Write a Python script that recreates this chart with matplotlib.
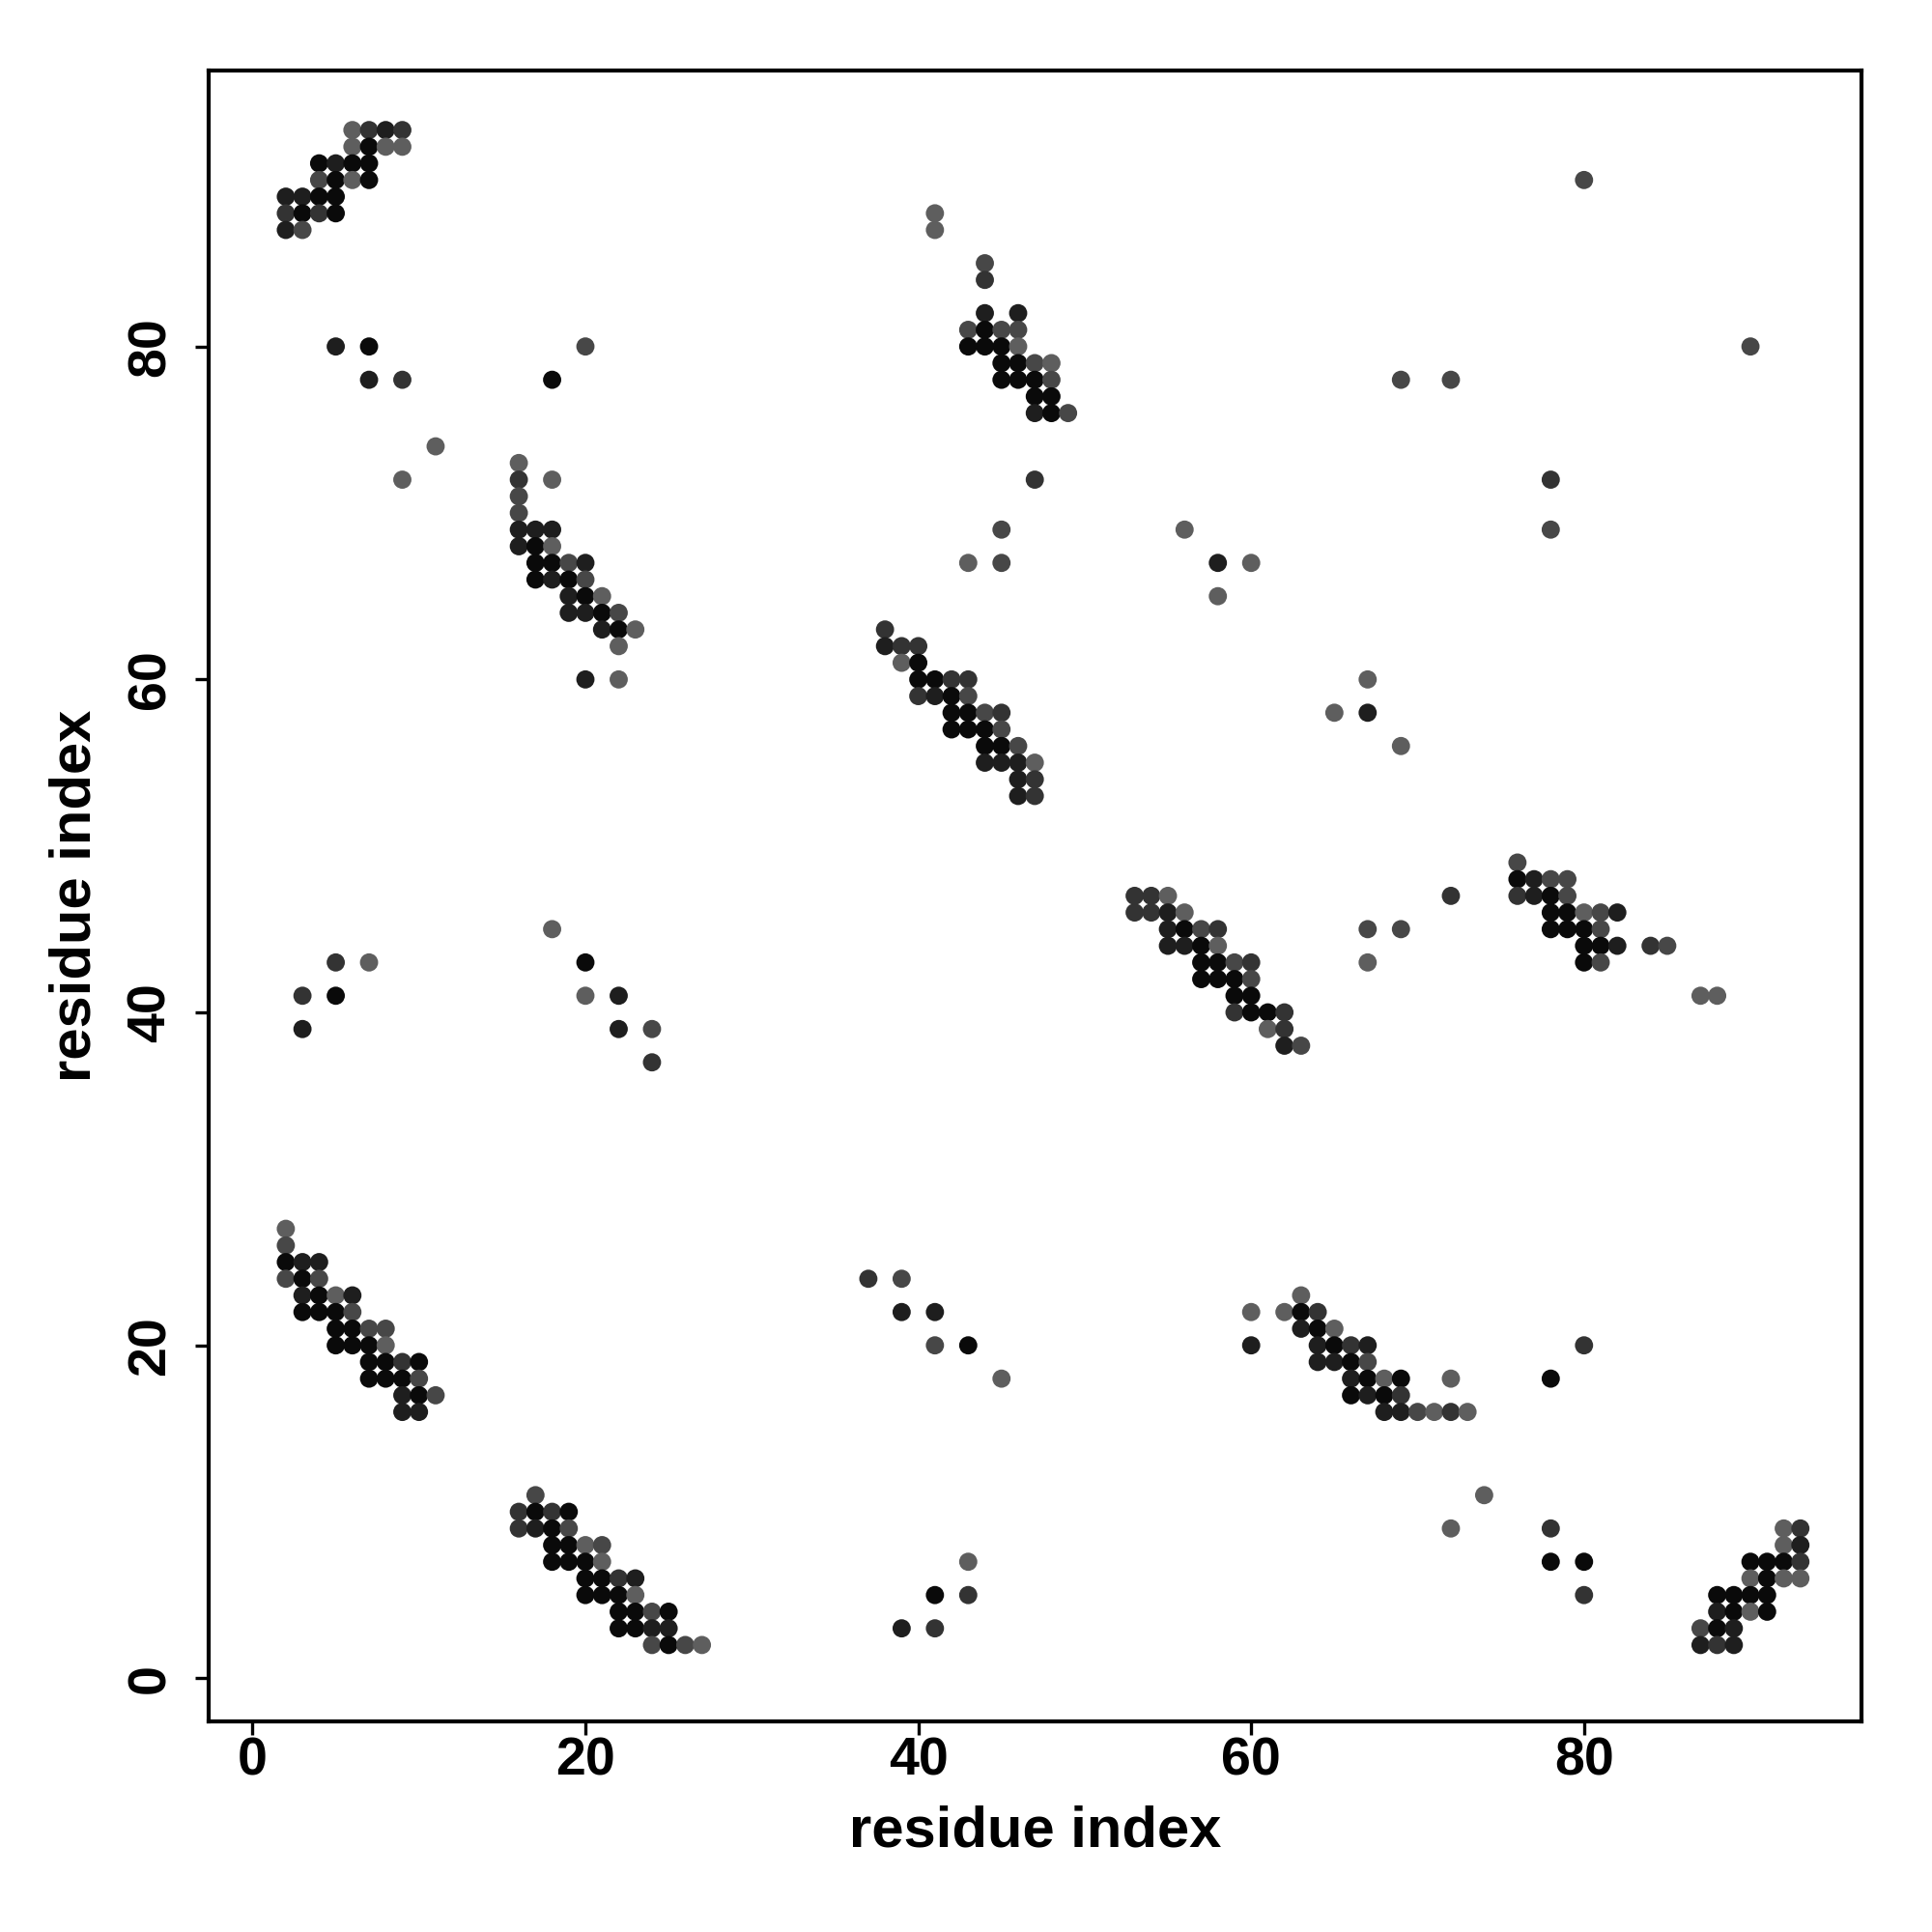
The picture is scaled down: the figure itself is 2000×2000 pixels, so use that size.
import matplotlib
matplotlib.use("Agg")
import matplotlib.pyplot as plt

# contact map: each entry is (residue i, residue j, shade level 1=darkest .. 5=lightest)
block_top_left = [
    (6, 93, 5), (7, 93, 3), (8, 93, 2), (9, 93, 3),
    (6, 92, 5), (7, 92, 1), (8, 92, 5), (9, 92, 5),
    (4, 91, 1), (5, 91, 2), (6, 91, 1), (7, 91, 1),
    (4, 90, 4), (5, 90, 1), (6, 90, 5), (7, 90, 1),
    (2, 89, 2), (3, 89, 2), (4, 89, 1), (5, 89, 1),
    (2, 88, 3), (3, 88, 1), (4, 88, 3), (5, 88, 1),
    (2, 87, 2), (3, 87, 4),
]

block_16_70 = [
    (16, 73, 5),
    (16, 72, 3), (18, 72, 5),
    (16, 71, 4), (16, 70, 4),
    (16, 69, 2), (17, 69, 2), (18, 69, 2),
    (16, 68, 2), (17, 68, 1), (18, 68, 5),
    (17, 67, 1), (18, 67, 1), (19, 67, 4), (20, 67, 2),
    (17, 66, 1), (18, 66, 2), (19, 66, 1), (20, 66, 4),
    (19, 65, 2), (20, 65, 1), (21, 65, 5),
    (19, 64, 2), (20, 64, 2), (21, 64, 1), (22, 64, 4),
    (21, 63, 2), (22, 63, 1), (23, 63, 5),
    (22, 62, 5),
    (20, 60, 2), (22, 60, 5),
]

block_41_80 = [
    (41, 88, 5), (41, 87, 5), (44, 85, 4), (44, 84, 3),
    (44, 82, 2), (46, 82, 2),
    (43, 81, 4), (44, 81, 1), (45, 81, 4), (46, 81, 4),
    (43, 80, 1), (44, 80, 1), (45, 80, 1), (46, 80, 5),
    (45, 79, 1), (46, 79, 1), (47, 79, 4), (48, 79, 5),
    (45, 78, 1), (46, 78, 1), (47, 78, 1), (48, 78, 4),
    (47, 77, 1), (48, 77, 1),
    (47, 76, 2), (48, 76, 1), (49, 76, 4),
    (47, 72, 3), (45, 69, 4), (43, 67, 5), (45, 67, 4),
]

block_38_58 = [
    (38, 63, 3),
    (38, 62, 2), (39, 62, 3), (40, 62, 3),
    (39, 61, 5), (40, 61, 1),
    (40, 60, 1), (41, 60, 1), (42, 60, 3), (43, 60, 3),
    (40, 59, 3), (41, 59, 2), (42, 59, 1), (43, 59, 4),
    (42, 58, 1), (43, 58, 1), (44, 58, 4), (45, 58, 3),
    (42, 57, 1), (43, 57, 1), (44, 57, 1), (45, 57, 4),
    (44, 56, 1), (45, 56, 1), (46, 56, 4),
    (44, 55, 2), (45, 55, 2), (46, 55, 2), (47, 55, 5),
    (46, 54, 2), (47, 54, 3),
    (46, 53, 2), (47, 53, 3),
]

block_53_43 = [
    (53, 47, 3), (54, 47, 3), (55, 47, 5),
    (53, 46, 3), (54, 46, 3), (55, 46, 2), (56, 46, 5),
    (55, 45, 2), (56, 45, 1), (57, 45, 4), (58, 45, 3),
    (55, 44, 2), (56, 44, 2), (57, 44, 1), (58, 44, 5),
    (57, 43, 1), (58, 43, 1), (59, 43, 4), (60, 43, 3),
    (57, 42, 1), (58, 42, 1), (59, 42, 1), (60, 42, 4),
    (59, 41, 1), (60, 41, 1),
    (59, 40, 3), (60, 40, 1), (61, 40, 1), (62, 40, 3),
    (61, 39, 5), (62, 39, 3),
    (62, 38, 2), (63, 38, 4),
]

block_76_46 = [
    (76, 49, 4),
    (76, 48, 1), (77, 48, 2), (78, 48, 4), (79, 48, 4),
    (76, 47, 3), (77, 47, 2), (78, 47, 1), (79, 47, 4),
    (78, 46, 1), (79, 46, 1), (80, 46, 5), (81, 46, 4), (82, 46, 2),
    (78, 45, 1), (79, 45, 1), (80, 45, 1), (81, 45, 4),
    (80, 44, 1), (81, 44, 1), (82, 44, 2), (84, 44, 3), (85, 44, 4),
    (80, 43, 1), (81, 43, 4),
    (87, 41, 5), (88, 41, 5),
]

block_2_20 = [
    (2, 27, 5), (2, 26, 4),
    (2, 25, 1), (3, 25, 2), (4, 25, 2),
    (2, 24, 4), (3, 24, 1), (4, 24, 4),
    (3, 23, 2), (4, 23, 1), (5, 23, 5), (6, 23, 2),
    (3, 22, 1), (4, 22, 1), (5, 22, 1), (6, 22, 4),
    (5, 21, 1), (6, 21, 1), (7, 21, 4), (8, 21, 4),
    (5, 20, 1), (6, 20, 1), (7, 20, 1), (8, 20, 5),
    (7, 19, 1), (8, 19, 1), (9, 19, 3), (10, 19, 1),
    (7, 18, 1), (8, 18, 1), (9, 18, 1), (10, 18, 4),
    (9, 17, 2), (10, 17, 1), (11, 17, 4),
    (9, 16, 2), (10, 16, 2),
]

block_16_5 = [
    (17, 11, 4),
    (16, 10, 3), (17, 10, 1), (18, 10, 3), (19, 10, 1),
    (16, 9, 3), (17, 9, 2), (18, 9, 1), (19, 9, 4),
    (18, 8, 1), (19, 8, 1), (20, 8, 5), (21, 8, 4),
    (18, 7, 1), (19, 7, 1), (20, 7, 1), (21, 7, 5),
    (20, 6, 1), (21, 6, 1), (22, 6, 3), (23, 6, 2),
    (20, 5, 1), (21, 5, 1), (22, 5, 1), (23, 5, 5),
    (22, 4, 1), (23, 4, 1), (24, 4, 4), (25, 4, 1),
    (22, 3, 1), (23, 3, 1), (24, 3, 2), (25, 3, 2),
    (24, 2, 4), (25, 2, 1), (26, 2, 4), (27, 2, 5),
]

block_63_19 = [
    (63, 23, 5),
    (60, 22, 5), (62, 22, 5), (63, 22, 1), (64, 22, 3),
    (63, 21, 2), (64, 21, 1), (65, 21, 5),
    (60, 20, 2), (64, 20, 2), (65, 20, 1), (66, 20, 3), (67, 20, 2),
    (64, 19, 2), (65, 19, 2), (66, 19, 1), (67, 19, 4),
    (66, 18, 2), (67, 18, 1), (68, 18, 5), (69, 18, 1), (72, 18, 5),
    (66, 17, 1), (67, 17, 2), (68, 17, 1), (69, 17, 3),
    (68, 16, 2), (69, 16, 2), (70, 16, 4), (71, 16, 5), (72, 16, 3), (73, 16, 5),
]

block_bottom_right = [
    (92, 9, 5), (93, 9, 3),
    (92, 8, 5), (93, 8, 2),
    (90, 7, 1), (91, 7, 1), (92, 7, 1), (93, 7, 3),
    (90, 6, 5), (91, 6, 1), (92, 6, 5), (93, 6, 5),
    (88, 5, 1), (89, 5, 1), (90, 5, 1), (91, 5, 1),
    (88, 4, 2), (89, 4, 1), (90, 4, 5), (91, 4, 1),
    (87, 3, 4), (88, 3, 1), (89, 3, 2),
    (87, 2, 2), (88, 2, 3), (89, 2, 2),
]

# isolated contacts
scattered = [
    (5, 80, 2), (7, 80, 1), (7, 78, 2), (9, 78, 3), (20, 80, 4), (18, 78, 1),
    (11, 74, 5), (9, 72, 5),
    (80, 90, 4), (90, 80, 4), (69, 78, 4), (72, 78, 4), (78, 72, 3), (78, 69, 4),
    (56, 69, 5), (58, 67, 2), (60, 67, 5), (58, 65, 5),
    (65, 58, 5), (67, 60, 5), (67, 58, 2), (69, 56, 5),
    (72, 47, 3), (67, 45, 4), (67, 43, 5), (69, 45, 4),
    (3, 41, 3), (3, 39, 2), (5, 43, 3), (5, 41, 1), (7, 43, 5),
    (18, 45, 5), (20, 43, 1), (20, 41, 5), (22, 41, 2), (22, 39, 2),
    (24, 39, 4), (24, 37, 3),
    (37, 24, 3), (39, 24, 4), (39, 22, 2), (41, 22, 2), (41, 20, 4),
    (43, 20, 1), (45, 18, 5),
    (39, 3, 2), (41, 5, 1), (41, 3, 3), (43, 7, 5), (43, 5, 3),
    (74, 11, 5), (72, 9, 5), (78, 18, 1), (80, 20, 3), (78, 9, 3),
    (78, 7, 1), (80, 7, 1), (80, 5, 3),
]

ticks = [0, 20, 40, 60, 80]
shades = {1: "#0a0a0a", 2: "#1e1e1e", 3: "#333333", 4: "#474747", 5: "#5e5e5e"}

plt.rcParams['font.family'] = ['Liberation Sans', 'DejaVu Sans']

points = (block_top_left + block_16_70 + block_41_80 + block_38_58 + block_53_43
          + block_76_46 + block_2_20 + block_16_5 + block_63_19
          + block_bottom_right + scattered)
xs = [p[0] for p in points]
ys = [p[1] for p in points]
cols = [shades[p[2]] for p in points]

fig = plt.figure(figsize=(10, 10), dpi=200)
ax = fig.add_axes([0.1078, 0.109, 0.8557, 0.8547])
ax.scatter(xs, ys, s=46, c=cols, linewidths=0)

ax.set_xlim(-2.66, 96.67)
ax.set_ylim(-2.59, 96.6)
ax.set_xticks(ticks)
ax.set_yticks(ticks)
for sp in ax.spines.values():
    sp.set_linewidth(1.5)
ax.tick_params(axis='both', length=5, width=1.2, labelsize=20, direction='out')
ax.tick_params(axis='x', pad=0.5)
ax.tick_params(axis='y', pad=7)
for lab in ax.get_xticklabels() + ax.get_yticklabels():
    lab.set_fontweight('bold')
for lab in ax.get_yticklabels():
    lab.set_rotation(90)
    lab.set_va('center')

ax.set_xlabel('residue index', fontsize=21.5, fontweight='bold', labelpad=7)
ax.set_ylabel('residue index', fontsize=21.5, fontweight='bold', labelpad=9)

plt.savefig('out.png', dpi=200)
